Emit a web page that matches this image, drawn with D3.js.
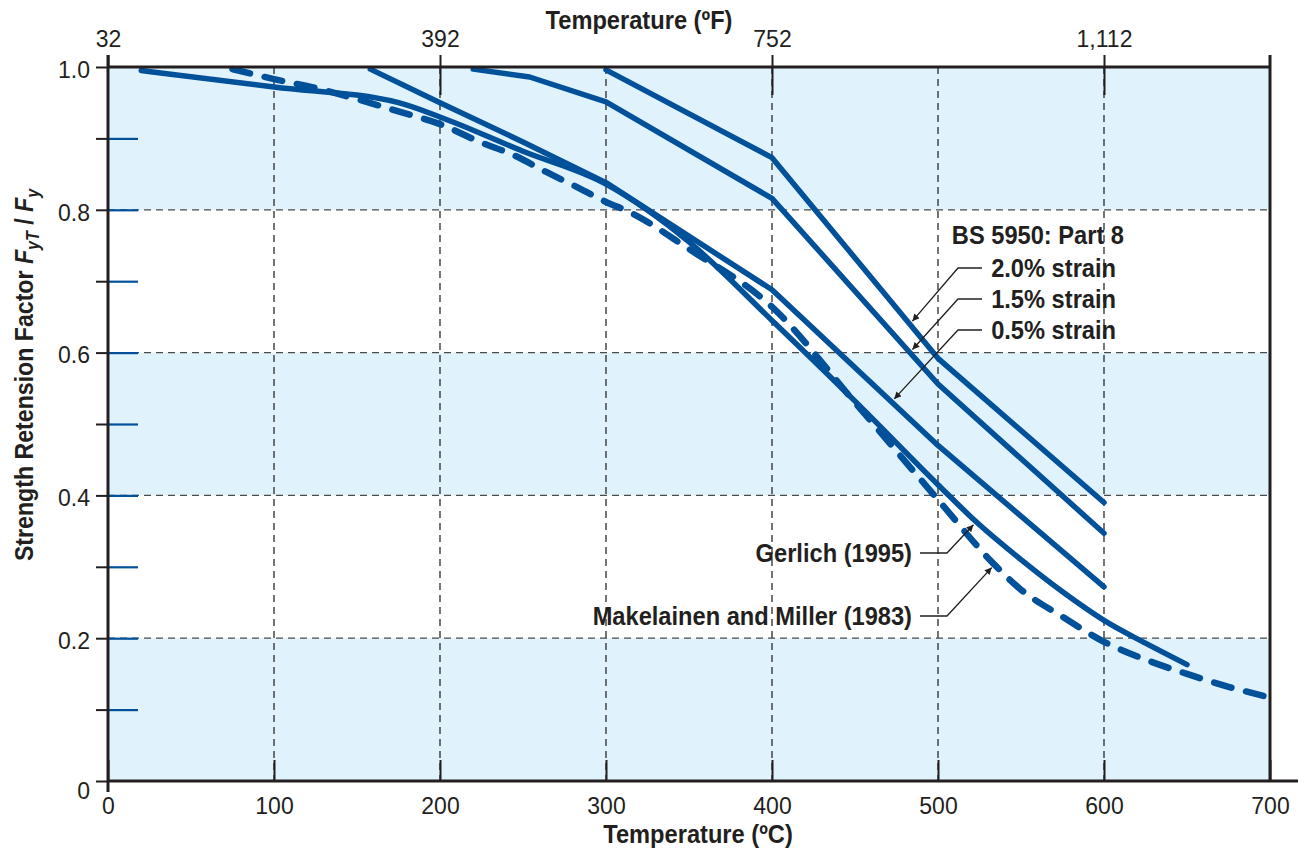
<!DOCTYPE html>
<html>
<head>
<meta charset="utf-8">
<script src="https://cdn.jsdelivr.net/npm/d3@7"></script>
<style>
  body { margin: 0; background: #fff; }
  svg { display: block; }
  .cond { font-family: "Liberation Sans", Arial, sans-serif; font-weight: bold; fill: #231f20; }
  .tick text { font-family: "Liberation Sans", Arial, sans-serif; font-size: 23px; fill: #231f20; }
</style>
</head>
<body>
<svg id="chart" width="1304" height="849"></svg>
<script>
// Axis ticks
const celsiusTicks = [0, 100, 200, 300, 400, 500, 600, 700];
const fahrenheitTicks = [32, 392, 752, 1112];
const factorTicks = [0, 0.2, 0.4, 0.6, 0.8, 1.0];
const factorMinorTicks = [0.1, 0.3, 0.5, 0.7, 0.9];
const gridCelsius = [100, 200, 300, 400, 500, 600];
const gridFactor = [0.2, 0.4, 0.6, 0.8];
const bandLows = [0, 0.4, 0.8];

// Gerlich (1995)
const gerlichTemp   = [20, 100, 175, 200, 250, 300, 350, 400, 450, 500, 523, 550, 575, 600, 625, 650];
const gerlichFactor = [0.995, 0.972, 0.950, 0.930, 0.882, 0.836, 0.755, 0.645, 0.532, 0.415, 0.363, 0.310, 0.265, 0.225, 0.193, 0.163];

// Makelainen and Miller (1983)
const makelainenTemp   = [75, 100, 126, 150, 176, 200, 224, 244, 264, 284, 300, 314, 350, 400, 450, 500, 534, 550, 575, 600, 625, 650, 675, 700];
const makelainenFactor = [0.997, 0.983, 0.970, 0.955, 0.937, 0.920, 0.895, 0.877, 0.853, 0.830, 0.811, 0.797, 0.745, 0.664, 0.530, 0.394, 0.303, 0.268, 0.230, 0.195, 0.170, 0.150, 0.132, 0.117];

// BS 5950: Part 8 strength reduction at given strain
const bs05Temp   = [158, 200, 250, 300, 400, 500, 600];
const bs05Factor = [0.997, 0.950, 0.895, 0.838, 0.688, 0.470, 0.272];
const bs15Temp   = [220, 254, 300, 400, 500, 600];
const bs15Factor = [0.997, 0.986, 0.951, 0.816, 0.556, 0.347];
const bs20Temp   = [300, 400, 500, 600];
const bs20Factor = [0.996, 0.873, 0.592, 0.390];

const strainLabels = ["2.0% strain", "1.5% strain", "0.5% strain"];
const strainPointerTemp = [483, 483, 472];
const studyLabels = ["Gerlich (1995)", "Makelainen and Miller (1983)"];
const studyPointerTemp = [523, 534];

const svg = d3.select("#chart");
const x = d3.scaleLinear().domain([0, 700]).range([108, 1270]);
const y = d3.scaleLinear().domain([0, 1]).range([781, 67]);
const toCelsius = f => (f - 32) * 5 / 9;

const ink = "#231f20";
const blue = "#00509a";
const narrow = 0.91;   // horizontal squeeze for the condensed bold captions

// Condensed bold caption; returns the text node for extra tspans
function caption(px, py, anchor, size, str, rotate = 0, squeeze = narrow) {
  const t = svg.append("text").attr("class", "cond").attr("font-size", size)
    .attr("text-anchor", anchor)
    .attr("transform", `translate(${px},${py}) rotate(${rotate}) scale(${squeeze},1)`);
  if (str) t.text(str);
  return t;
}

// Alternating background bands
svg.append("g").selectAll("rect").data(bandLows).join("rect")
  .attr("x", x(0)).attr("width", x(700) - x(0))
  .attr("y", d => y(d + 0.2)).attr("height", d => y(d) - y(d + 0.2))
  .attr("fill", "#e0f2fc");

// Dashed grid
const grid = svg.append("g").attr("fill", "none");
grid.selectAll("line.v").data(gridCelsius).join("line").attr("class", "v")
  .attr("x1", d => x(d)).attr("x2", d => x(d)).attr("y1", y(1)).attr("y2", y(0))
  .attr("stroke", "#2a2a2a").attr("stroke-width", 1.3).attr("stroke-dasharray", "7,5");
grid.selectAll("line.h").data(gridFactor).join("line").attr("class", "h")
  .attr("y1", d => y(d)).attr("y2", d => y(d)).attr("x1", x(0)).attr("x2", x(700))
  .attr("stroke", "#4a4a4a").attr("stroke-width", 1.3).attr("stroke-dasharray", "7,5");

// Blue inner ticks along the factor axis
svg.append("g").attr("transform", `translate(${x(0)},0)`)
  .call(d3.axisRight(y).tickValues(d3.range(1, 10).map(i => i / 10)).tickSize(30).tickFormat(""))
  .call(g => g.select(".domain").remove())
  .call(g => g.selectAll(".tick line").attr("stroke", blue).attr("stroke-width", 2.2));

// Data series
const series = [
  { t: gerlichTemp, v: gerlichFactor, curve: d3.curveMonotoneX, dash: null, w: 5.5 },
  { t: makelainenTemp, v: makelainenFactor, curve: d3.curveMonotoneX, dash: "18,15", w: 6.5 },
  { t: bs05Temp, v: bs05Factor, curve: d3.curveLinear, dash: null, w: 5.5 },
  { t: bs15Temp, v: bs15Factor, curve: d3.curveLinear, dash: null, w: 5.5 },
  { t: bs20Temp, v: bs20Factor, curve: d3.curveLinear, dash: null, w: 5.5 }
];
const lineGen = d3.line().x(d => x(d[0])).y(d => y(d[1]));
svg.append("g").selectAll("path").data(series).join("path")
  .attr("d", s => lineGen.curve(s.curve)(s.t.map((t, i) => [t, s.v[i]])))
  .attr("fill", "none").attr("stroke", blue)
  .attr("stroke-width", s => s.w).attr("stroke-linecap", "round").attr("stroke-linejoin", "round")
  .attr("stroke-dasharray", s => s.dash);

// Frame
const frame = svg.append("g").attr("stroke", ink).attr("stroke-width", 3).attr("fill", "none");
frame.append("line").attr("x1", x(0)).attr("x2", x(0)).attr("y1", 55).attr("y2", 792);
frame.append("line").attr("x1", x(0)).attr("x2", x(700)).attr("y1", y(1)).attr("y2", y(1));
frame.append("line").attr("x1", x(0)).attr("x2", 1298).attr("y1", y(0)).attr("y2", y(0));
frame.append("line").attr("x1", x(700)).attr("x2", x(700)).attr("y1", 55).attr("y2", y(0));

// Celsius axis
svg.append("g").attr("transform", `translate(0,${y(0)})`)
  .call(d3.axisBottom(x).tickValues(celsiusTicks).tickSize(-21).tickPadding(17).tickFormat(d3.format("d")))
  .call(g => g.select(".domain").remove())
  .call(g => g.selectAll(".tick line").attr("stroke", ink).attr("stroke-width", 2));

// Fahrenheit axis
svg.append("g").attr("transform", `translate(0,${y(1)})`)
  .call(d3.axisTop(x).tickValues(fahrenheitTicks.map(toCelsius)).tickSize(12).tickPadding(8)
    .tickFormat((d, i) => d3.format(",")(fahrenheitTicks[i])))
  .call(g => g.select(".domain").remove())
  .call(g => g.selectAll(".tick line").attr("stroke", ink).attr("stroke-width", 2)
    .attr("y1", (d, i) => i === 0 ? 0 : 28));

// Factor axis
svg.append("g").attr("transform", `translate(${x(0)},0)`)
  .call(d3.axisLeft(y).tickValues(factorTicks).tickSize(12).tickPadding(6)
    .tickFormat(d => d === 0 ? "0" : d3.format(".1f")(d)))
  .call(g => g.select(".domain").remove())
  .call(g => g.selectAll(".tick line").attr("stroke", ink).attr("stroke-width", 2))
  .call(g => g.selectAll(".tick text").attr("dy", d => d === 0 ? "0.75em" : "0.45em"));
svg.append("g").attr("transform", `translate(${x(0)},0)`)
  .call(d3.axisLeft(y).tickValues(factorMinorTicks).tickSize(12).tickFormat(""))
  .call(g => g.select(".domain").remove())
  .call(g => g.selectAll(".tick line").attr("stroke", ink).attr("stroke-width", 2));

// Axis titles
caption(639, 29, "middle", 26, "Temperature (ºF)");
caption(698, 843, "middle", 26, "Temperature (ºC)");

const yTitle = caption(33, 375, "middle", 26, null, -90, 0.89);
yTitle.append("tspan").text("Strength Retension Factor ");
yTitle.append("tspan").attr("font-style", "italic").text("F");
yTitle.append("tspan").attr("font-style", "italic").attr("font-size", 18).attr("dy", 6).text("yT");
yTitle.append("tspan").attr("dy", -6).text(" / ");
yTitle.append("tspan").attr("font-style", "italic").text("F");
yTitle.append("tspan").attr("font-style", "italic").attr("font-size", 18).attr("dy", 6).text("y");

// Arrow marker for callouts
svg.append("defs").append("marker")
  .attr("id", "arrowHead").attr("viewBox", "0 0 10 10").attr("refX", 10).attr("refY", 5)
  .attr("markerWidth", 9).attr("markerHeight", 7).attr("markerUnits", "userSpaceOnUse")
  .attr("orient", "auto")
  .append("path").attr("d", "M0,0 L10,5 L0,10 Z").attr("fill", ink);

const valueAt = (ts, vs, t) => d3.scaleLinear().domain(ts).range(vs)(t);

function callout(elbowX, rowY, lineStartX, tip) {
  // back the tip off the line centre so the arrowhead touches the stroke edge
  const dx = tip[0] - elbowX, dy = tip[1] - rowY, len = Math.hypot(dx, dy);
  const end = [tip[0] - dx / len * 4, tip[1] - dy / len * 4];
  svg.append("path")
    .attr("d", `M${lineStartX},${rowY} L${elbowX},${rowY} L${end[0]},${end[1]}`)
    .attr("fill", "none").attr("stroke", ink).attr("stroke-width", 1.3)
    .attr("marker-end", "url(#arrowHead)");
}

// BS 5950 legend block
caption(1124, 244, "end", 26, "BS 5950: Part 8");
const strainSeries = [[bs20Temp, bs20Factor], [bs15Temp, bs15Factor], [bs05Temp, bs05Factor]];
strainLabels.forEach((lab, i) => {
  const rowY = 268 + i * 31;
  caption(1116, rowY + 9, "end", 26, lab);
  const t = strainPointerTemp[i];
  const tip = [x(t), y(valueAt(strainSeries[i][0], strainSeries[i][1], t))];
  callout(958, rowY, 982, tip);
});

// Study labels
const studySeries = [[gerlichTemp, gerlichFactor], [makelainenTemp, makelainenFactor]];
studyLabels.forEach((lab, i) => {
  const rowY = 553 + i * 63;
  caption(912, rowY + 9, "end", 26, lab);
  const t = studyPointerTemp[i];
  const tip = [x(t), y(valueAt(studySeries[i][0], studySeries[i][1], t))];
  callout(947, rowY, 920, tip);
});
</script>
</body>
</html>
